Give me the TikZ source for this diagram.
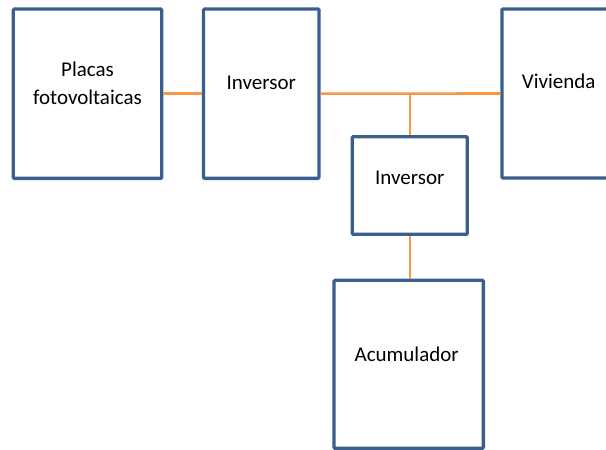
\documentclass[tikz,border=0pt]{standalone}
\usepackage{fontspec}
\setmainfont{Carlito}
\definecolor{boxblue}{HTML}{3A5F8F}
\definecolor{linkorange}{HTML}{F79646}
\begin{document}
\begin{tikzpicture}[x=1pt,y=-1pt,
  block/.style={draw=boxblue, line width=3.3pt, rounded corners=1pt, fill=white, inner sep=0pt},
  caption/.style={font=\fontsize{21}{28}\selectfont, text=black, align=center},
  link/.style={draw=linkorange, line width=2.6pt}]
\useasboundingbox (0,0) rectangle (606,450);
\clip (0,0) rectangle (606,450);

% system blocks
\node[block, minimum width=148.4pt, minimum height=169.3pt,
      label={[caption,yshift=10pt]center:Placas\\fotovoltaicas}] (placas) at (87.5,93.7) {};
\node[block, minimum width=115.5pt, minimum height=169.3pt,
      label={[caption,yshift=11pt]center:Inversor}] (inv1) at (261.3,93.7) {};
\node[block, minimum width=113.4pt, minimum height=169pt,
      label={[caption,yshift=11.8pt]center:Vivienda}] (viv) at (558.7,93.5) {};
\node[block, minimum width=115pt, minimum height=97.6pt,
      label={[caption,yshift=7.8pt]center:Inversor}] (inv2) at (409.8,185.5) {};
\node[block, minimum width=149.3pt, minimum height=168pt,
      label={[caption,xshift=-2pt,yshift=10pt]center:Acumulador}] (acum) at (408.7,364.3) {};

% wiring between blocks
\coordinate (tee) at (inv1.east -| inv2.north);
\draw[link] (placas.east) -- (inv1.west);
\draw[link] (inv1.east) -- (viv.west);
\draw[link] (tee) -- (inv2.north);
\draw[link] (inv2.south) -- (inv2.south |- acum.north);
\end{tikzpicture}
\end{document}
